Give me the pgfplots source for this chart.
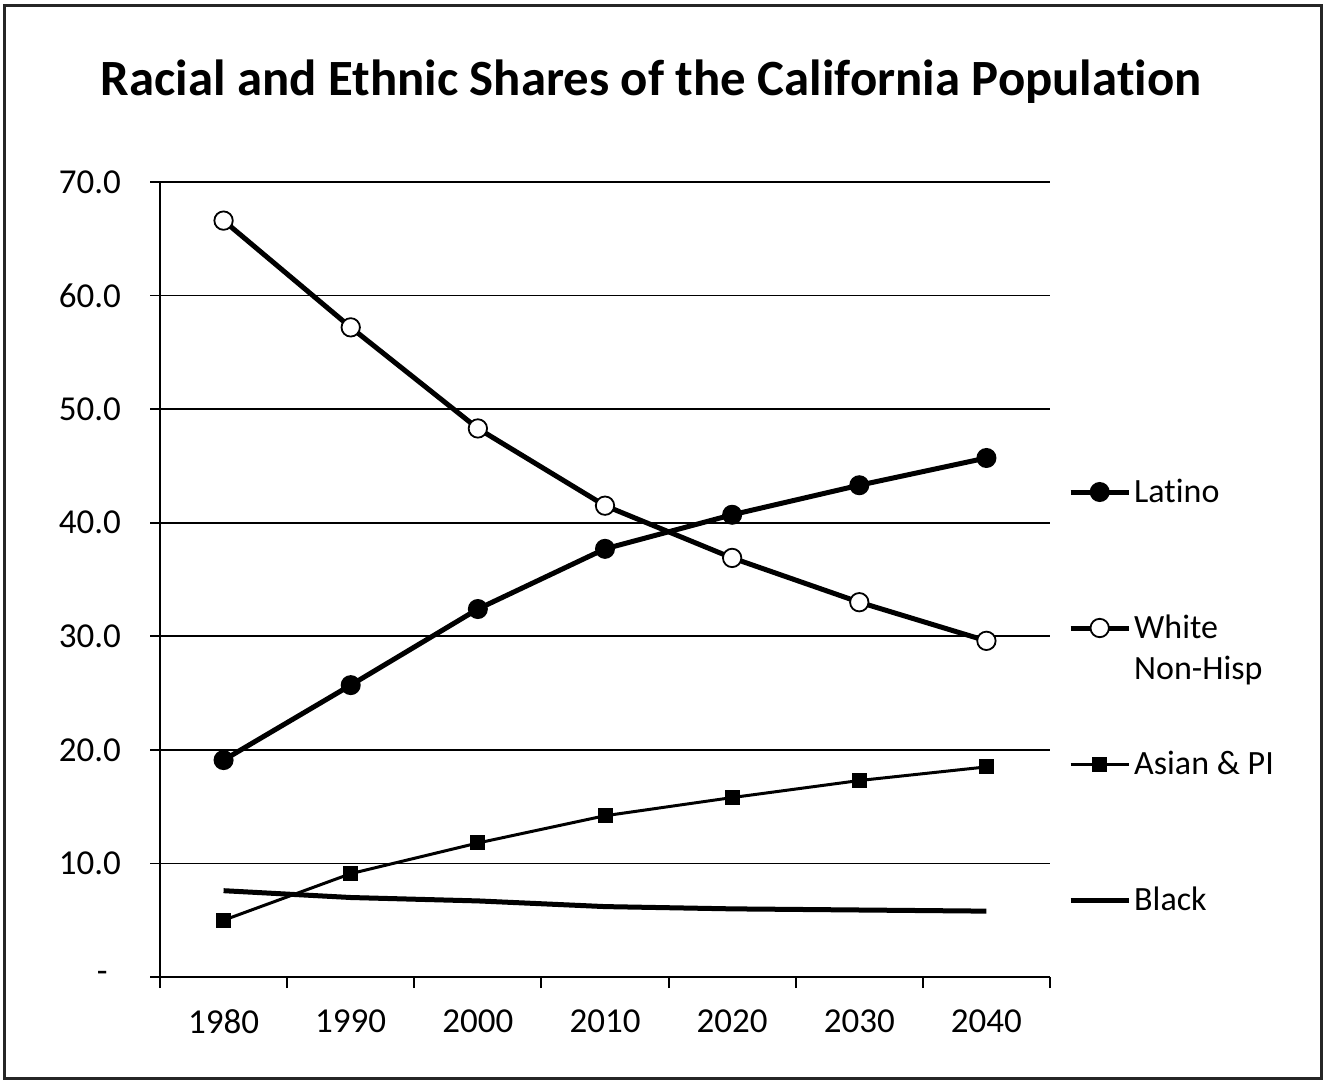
\documentclass[border=0pt]{standalone}
\usepackage{pgfplots}
\pgfplotsset{compat=1.18}
\usepackage{fontspec}
\setmainfont{Carlito}[Ligatures=NoCommon]
\begin{document}
\begin{tikzpicture}
\begin{axis}[
  at={(0,0)}, anchor=south west,
  width=445pt, height=397.5pt, scale only axis,
  xmin=-0.5, xmax=6.5, ymin=0, ymax=70,
  axis x line*=bottom, axis y line*=left,
  axis line style={black, line width=1pt},
  xtick={0,...,6},
  xticklabels={1980,1990,2000,2010,2020,2030,2040},
  major x tick style={draw=none},
  minor xtick={-0.5,0.5,...,6.5},
  minor x tick style={black, line width=1pt},
  minor tick length=5.5pt,
  ytick={0,10,...,70},
  yticklabels={{\makebox[12pt][l]{-}},10.0,20.0,30.0,40.0,50.0,60.0,70.0},
  major y tick style={black,line width=0.9pt},
  major tick length=5pt,
  tick align=outside,
  ymajorgrids, grid style={black, line width=0.8pt},
  tick label style={font=\fontsize{17.5}{20}\selectfont},
  xticklabel style={yshift=-8pt},
  yticklabel style={xshift=-11pt},
  clip=false,
  legend style={at={(1.0200,0.636)}, anchor=north west, draw=none, fill=none,
    row sep=49.5pt, inner sep=0pt, nodes={inner sep=1.5pt, yshift=-3pt},
    font=\fontsize{17}{20.5}\selectfont, cells={anchor=mid west}},
  legend image code/.code={\draw[mark repeat=2,mark phase=2] plot coordinates {(0pt,0pt)(14.5pt,0pt)(29pt,0pt)};},
]
\addplot[black, line width=2.5pt, mark=*, mark size=4.6pt, mark options={solid, fill=black, line width=0.8pt}]
 coordinates {(0,19.1)(1,25.7)(2,32.4)(3,37.7)(4,40.7)(5,43.3)(6,45.7)};
\addlegendentry{\raisebox{0pt}[14pt][8pt]{Latino}}
\addplot[black, line width=2.5pt, mark=*, mark size=4.6pt, mark options={solid, fill=white, line width=0.9pt}]
 coordinates {(0,66.6)(1,57.2)(2,48.3)(3,41.5)(4,36.9)(5,33.0)(6,29.6)};
\addlegendentry{\raisebox{0pt}[14pt][8pt]{\parbox[t]{4cm}{White\\Non-Hisp}}}
\addplot[black, line width=1.5pt, mark=square*, mark size=3.5pt, mark options={solid, fill=black, line width=0.5pt}]
 coordinates {(0,5.0)(1,9.1)(2,11.8)(3,14.2)(4,15.8)(5,17.3)(6,18.5)};
\addlegendentry{\raisebox{0pt}[14pt][8pt]{Asian \& PI}}
\addplot[black, line width=2.5pt, no marks]
 coordinates {(0,7.6)(1,7.0)(2,6.7)(3,6.2)(4,6.0)(5,5.9)(6,5.8)};
\addlegendentry{\raisebox{0pt}[14pt][8pt]{Black}}
\end{axis}
\node[font=\fontsize{25.4}{30}\selectfont\bfseries] at (245.5pt,447.5pt) {Racial and Ethnic Shares of the California Population};
\draw[black!85, line width=1.5pt] (-77.5pt,-50.5pt) rectangle (580.5pt,485.5pt);
\pgfresetboundingbox
\path[use as bounding box] (-80pt,-52.5pt) rectangle (582.5pt,488.5pt);
\end{tikzpicture}
\end{document}
